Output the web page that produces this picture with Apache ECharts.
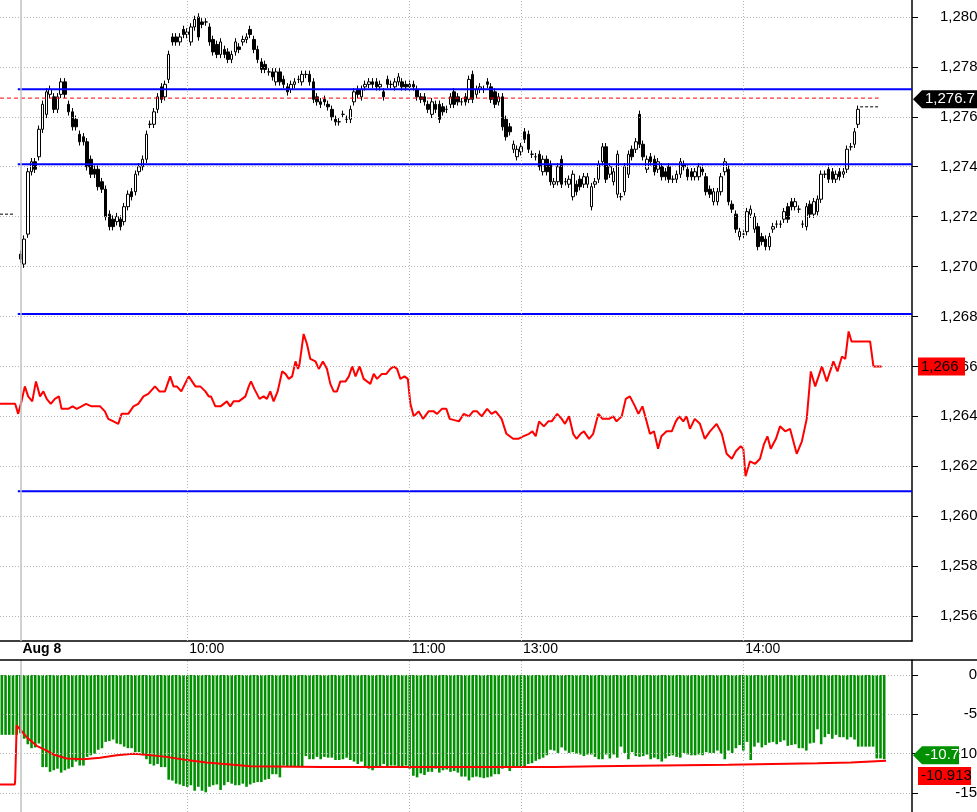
<!DOCTYPE html>
<html><head><meta charset="utf-8">
<script src="https://cdn.jsdelivr.net/npm/echarts@6/dist/echarts.min.js"></script>
<style>html,body{margin:0;padding:0;background:#fff}#c{width:977px;height:812px}</style>
</head><body><div id="c"></div>
<script>
// ---- data ----
const N = 246;                    // 1-minute bar slots on the time axis
const candleStart = 5;            // first bar of Aug 8
const tickIdx = [5, 50, 110, 140, 200];
const tickText = ['Aug 8', '10:00', '11:00', '13:00', '14:00'];
const priceTicks = [1256,1258,1260,1262,1264,1266,1268,1270,1272,1274,1276,1278,1280];
const oscTicks = [0,-5,-10,-15];
const O = [1270.5,1270.1,1271.3,1273.8,1274.2,1274.4,1275.5,1276.1,1276.9,1276.8,1276.3,1276.9,1277.4,1276.5,1276.2,1275.9,1275.3,1275.2,1275.0,1274.3,1273.9,1273.9,1273.4,1273.1,1272.1,1271.9,1271.8,1271.9,1271.8,1272.4,1273.0,1273.0,1273.8,1274.0,1274.3,1275.7,1275.7,1276.3,1277.2,1276.8,1277.5,1279.2,1279.2,1279.0,1279.5,1279.3,1279.0,1279.6,1280.0,1279.8,1279.8,1279.6,1279.1,1278.9,1278.5,1278.7,1278.6,1278.3,1278.6,1278.8,1279.0,1279.1,1279.5,1279.1,1278.7,1278.2,1278.1,1277.8,1277.8,1277.4,1277.8,1277.5,1277.2,1277.1,1277.3,1277.5,1277.4,1277.7,1277.7,1277.4,1276.8,1276.6,
1276.7,1276.5,1276.3,1275.9,1275.8,1276.1,1275.9,1275.9,1276.6,1277.1,1276.8,1277.2,1277.3,1277.4,1277.4,1277.2,1277.0,1277.5,1277.3,1277.2,1277.4,1277.4,1277.3,1277.2,1277.3,1277.1,1276.8,1276.8,1276.5,1276.1,1276.5,1276.5,1276.4,1276.3,1276.5,1277.0,1276.8,1276.6,1276.8,1276.7,1277.7,1276.9,1277.1,1277.1,1277.4,1277.2,1277.0,1276.6,1276.8,1275.9,1275.6,1274.7,1274.4,1274.6,1275.4,1275.3,1274.5,1274.4,1274.5,1273.8,1274.3,1274.1,1273.3,1273.4,1274.3,1273.4,1273.3,1272.8,1273.3,1273.5,1273.3,1273.3,1272.4,1273.3,1273.5,1274.2,1274.8,1273.7,1273.4,1272.9,1272.8,1273.0,1273.7,1274.7,1274.7,1276.1,
1274.9,1273.9,1274.4,1274.3,1273.9,1274.0,1273.8,1274.0,1273.5,1273.5,1273.7,1274.1,1273.9,1273.8,1273.6,1273.6,1273.9,1273.6,1273.1,1272.6,1272.6,1273.0,1273.8,1273.9,1272.5,1272.1,1271.2,1271.3,1271.4,1272.1,1271.5,1271.6,1271.2,1271.1,1270.8,1271.5,1271.7,1271.7,1271.9,1272.4,1272.6,1272.4,1272.3,1271.7,1271.6,1272.5,1272.1,1272.2,1272.7,1273.7,1273.9,1273.8,1273.5,1273.8,1273.7,1273.9,1274.8,1274.9,1275.7];
const C = [1270.3,1271.1,1273.8,1274.2,1273.9,1275.5,1276.5,1277.0,1277.1,1276.3,1276.8,1277.4,1276.9,1276.2,1275.6,1275.6,1275.0,1275.0,1274.0,1273.7,1273.7,1273.2,1273.1,1272.0,1271.6,1271.6,1272.0,1271.6,1272.4,1272.9,1272.8,1273.7,1274.0,1274.3,1275.3,1275.7,1276.2,1276.8,1276.7,1277.3,1278.5,1279.0,1279.0,1279.2,1279.3,1279.4,1279.6,1279.9,1279.2,1279.7,1279.8,1279.0,1278.6,1278.5,1279.0,1278.5,1278.3,1278.5,1279.0,1278.7,1279.1,1279.2,1279.3,1278.7,1278.3,1277.9,1277.9,1277.8,1277.6,1277.8,1277.4,1277.3,1277.0,1277.3,1277.4,1277.5,1277.7,1277.7,1277.4,1276.7,1276.6,1276.5,
1276.6,1276.4,1276.0,1275.8,1275.8,1276.1,1275.9,1276.3,1277.0,1276.9,1277.1,1277.3,1277.4,1277.3,1277.2,1277.3,1276.8,1277.3,1277.3,1277.4,1277.6,1277.2,1277.2,1277.3,1277.2,1276.8,1276.7,1276.6,1276.3,1276.6,1276.3,1275.9,1276.2,1276.3,1276.8,1276.5,1276.6,1276.6,1276.6,1277.5,1276.7,1277.1,1277.2,1277.1,1277.3,1276.7,1276.5,1276.8,1275.6,1275.2,1275.4,1274.9,1274.7,1274.8,1275.1,1274.7,1274.5,1274.4,1274.0,1274.3,1273.8,1273.4,1273.4,1274.0,1273.3,1273.4,1273.5,1273.7,1273.0,1273.2,1273.6,1273.6,1273.2,1273.4,1274.1,1274.8,1273.5,1274.0,1273.8,1274.5,1272.8,1274.0,1274.5,1274.4,1275.0,1274.9,
1274.4,1274.3,1274.2,1273.8,1274.2,1273.6,1273.6,1273.5,1273.5,1273.7,1274.2,1274.0,1273.6,1273.6,1273.8,1274.0,1273.8,1273.0,1272.9,1273.0,1273.0,1273.6,1274.2,1272.6,1272.3,1271.5,1271.4,1271.3,1272.2,1272.3,1272.0,1270.8,1271.0,1270.8,1271.2,1271.6,1271.7,1271.7,1272.2,1271.9,1272.4,1272.6,1272.3,1271.7,1272.4,1272.1,1272.6,1272.7,1273.7,1273.7,1273.5,1273.5,1273.7,1273.6,1273.8,1274.7,1274.8,1275.4,1276.3];
// second instrument (red line): [bar time, price]
const redLine = [[-0.5,1264.5],[3.6,1264.5],[4.4,1264.1],[5.3,1264.6],[6.2,1265.2],[7.1,1264.8],[8.2,1264.6],[9.2,1265.4],[10.3,1264.8],[11.2,1265.0],[12.1,1264.7],[13.2,1264.5],[14.3,1264.7],[15.4,1264.8],[16.1,1264.3],[17.9,1264.3],[19.1,1264.4],[20.2,1264.3],[21.5,1264.4],[22.7,1264.5],[24.2,1264.4],[26.5,1264.4],[27.8,1264.2],[28.7,1263.9],[30.1,1263.8],[31.4,1263.7],[32.3,1264.1],[34.1,1264.1],[35.5,1264.4],[36.8,1264.5],[38.2,1264.8],[39.5,1264.9],[41.3,1265.2],[42.5,1265.0],[44.0,1265.0],[45.4,1265.6],[46.3,1265.2],[47.2,1265.2],[48.4,1265.0],[50.4,1265.6],[52.2,1265.2],[53.5,1265.2],[54.9,1265.0],[55.8,1264.8],[56.4,1264.8],[57.6,1264.4],[59.0,1264.4],[60.7,1264.6],[61.6,1264.4],[62.5,1264.6],[63.9,1264.6],[65.7,1264.8],[66.6,1265.2],[67.2,1265.4],[68.1,1265.1],[69.5,1264.7],[70.6,1264.8],[71.5,1264.7],[72.4,1265.0],[73.3,1264.6],[74.4,1265.0],[75.6,1265.8],[76.5,1265.7],[77.4,1265.5],[78.3,1265.6],[79.2,1266.2],[79.9,1265.9],[80.3,1266.1],[81.4,1267.3],[82.3,1266.9],[83.2,1266.3],[84.6,1266.2],[85.5,1265.9],[86.6,1266.2],[87.7,1265.9],[88.6,1265.3],[89.5,1265.0],[90.4,1265.0],[91.3,1265.4],[92.7,1265.4],[93.6,1265.6],[94.5,1266.0],[95.4,1265.6],[96.5,1266.0],[97.6,1265.5],[98.5,1265.4],[99.4,1265.3],[100.3,1265.7],[101.2,1265.5],[102.5,1265.7],[103.7,1265.7],[104.8,1265.9],[105.7,1266.0],[106.6,1265.9],[107.5,1265.5],[108.6,1265.6],[109.5,1265.5],[110.2,1264.5],[111.1,1264.0],[112.4,1264.2],[113.6,1263.9],[115.1,1264.2],[116.5,1264.2],[117.4,1264.1],[118.7,1264.3],[119.9,1264.3],[120.8,1263.9],[123.3,1263.8],[124.6,1264.1],[126.0,1264.0],[127.1,1264.2],[128.2,1264.2],[129.4,1264.0],[130.9,1264.3],[132.1,1264.1],[133.2,1264.2],[134.8,1263.9],[136.1,1263.3],[137.9,1263.1],[139.3,1263.1],[140.6,1263.2],[142.2,1263.3],[143.1,1263.4],[144.0,1263.2],[144.9,1263.8],[146.2,1263.6],[147.4,1263.8],[148.3,1263.8],[149.8,1264.1],[151.0,1263.9],[151.9,1263.7],[153.0,1264.0],[154.1,1263.3],[155.0,1263.1],[156.1,1263.3],[157.0,1263.4],[158.4,1263.1],[159.5,1263.3],[160.9,1264.1],[162.0,1263.9],[163.8,1263.9],[164.9,1264.0],[165.8,1263.8],[167.2,1264.0],[168.3,1264.7],[169.4,1264.8],[170.8,1264.4],[171.7,1264.1],[172.8,1264.4],[173.9,1263.8],[174.8,1263.3],[175.9,1263.4],[177.0,1262.7],[177.9,1263.2],[179.3,1263.4],[180.7,1263.4],[181.8,1263.8],[182.7,1264.0],[183.8,1263.8],[184.7,1264.0],[185.6,1263.5],[186.9,1263.9],[188.3,1263.7],[189.6,1263.1],[191.0,1263.4],[192.8,1263.7],[194.2,1263.3],[195.5,1262.5],[196.9,1262.3],[198.0,1262.6],[199.3,1262.8],[200.0,1262.7],[200.6,1261.6],[201.8,1262.2],[203.2,1262.1],[204.5,1262.3],[205.6,1262.9],[206.5,1263.2],[207.4,1262.7],[208.8,1263.1],[209.9,1263.6],[211.3,1263.4],[212.6,1263.5],[214.4,1262.5],[215.8,1263.0],[217.1,1263.9],[218.2,1265.8],[219.4,1265.2],[221.2,1266.0],[222.5,1265.4],[224.3,1266.2],[225.4,1265.8],[226.6,1266.4],[227.5,1266.3],[228.4,1267.4],[229.2,1267.0],[234.2,1267.0],[235.1,1266.0],[237.3,1266.0]];
const levels = [1277.1, 1274.1, 1268.1, 1261.0];
const refLevel = 1276.75;
const prevClose = 1272.1;
const lastClose = 1276.4;
// lower pane: histogram depth (shown as negative values) and signal line
const hist = [7.6,7.6,7.6,7.6,7.6,
7.4,8.1,8.8,9.3,9.2,8.7,11.7,11.7,12.3,12.1,11.9,12.4,12.1,11.9,11.7,11.0,11.5,11.5,10.4,10.2,10.0,9.5,9.3,8.5,8.4,8.2,8.7,8.8,9.1,9.3,9.3,9.8,9.8,10.2,10.7,11.3,11.5,11.3,11.7,11.7,13.3,13.4,13.8,13.9,14.1,14.2,14.0,14.7,14.2,14.7,14.9,14.2,14.0,13.9,14.6,14.0,13.6,13.8,14.0,14.0,13.8,14.2,13.9,13.7,13.6,13.6,13.3,13.2,12.6,12.6,13.0,11.5,11.7,11.7,11.7,11.7,11.7,10.3,10.7,10.7,10.4,10.7,10.4,10.5,
10.5,10.8,10.8,10.7,10.5,10.8,11.0,11.3,11.0,11.7,11.9,12.1,11.7,11.6,11.3,11.8,11.5,11.5,11.8,11.6,11.5,11.9,12.8,13.0,12.5,12.7,12.3,12.3,11.9,12.4,12.1,12.0,12.3,12.2,12.4,12.9,12.9,13.4,13.0,12.9,13.0,13.1,13.0,12.9,12.6,12.6,11.9,11.6,12.2,11.6,11.6,11.6,11.6,11.3,11.2,10.9,10.7,10.5,10.2,9.5,9.6,9.9,9.2,9.6,9.9,9.8,10.0,10.1,10.3,10.1,10.1,10.4,10.7,10.7,10.1,10.6,10.1,10.5,9.1,9.9,10.7,9.8,10.3,10.4,10.3,10.1,10.7,10.5,10.7,11.0,10.6,10.3,10.2,10.4,10.5,9.9,10.1,10.2,10.2,10.1,10.2,9.8,9.9,9.9,9.6,10.0,10.7,9.6,9.9,9.3,8.9,
9.6,8.5,10.8,9.1,8.6,9.2,8.9,8.6,8.5,8.8,8.5,8.3,9.0,8.9,8.8,9.3,9.3,9.6,8.7,8.6,6.9,8.8,7.9,7.5,8.1,7.6,7.9,7.9,8.2,7.9,8.2,9.1,9.1,9.1,9.1,9.1,10.6,10.6,10.7];
const signal = [[-0.5,-13.9],[3.5,-13.9],[3.6,-13.3],[4.0,-6.4],[4.5,-6.4],[6.7,-7.9],[9.4,-9.0],[12.1,-9.6],[13.9,-10.1],[17.5,-10.6],[22,-10.7],[26.5,-10.5],[31,-10.2],[35.4,-10.0],[38.2,-10.1],[44.4,-10.4],[49.8,-10.8],[55.2,-11.1],[62.4,-11.4],[66.9,-11.6],[86.3,-11.7],[149,-11.7],[149.1,-11.6],[160.8,-11.6],[161,-11.5],[178,-11.5],[178.2,-11.4],[196,-11.4],[196.2,-11.3],[207.8,-11.3],[208,-11.2],[220,-11.2],[220.2,-11.1],[229,-11.1],[229.2,-11.0],[238.5,-10.9]];
const histLast = -10.7, signalLast = -10.913, refLast = 1276.7, redLast = 1266;

// ---- build ----
const cats = Array.from({length:N}, (_,i)=>String(i));
const candles = cats.map((_,i)=>{
  const k = i - candleStart;
  if (k < 0 || k >= O.length) return '-';
  const o=O[k], c=C[k];
  return [o, c, Math.min(o,c)-0.15, Math.max(o,c)+0.15];
});
const histData = cats.map((_,i)=> i < hist.length ? -hist[i] : '-');
const F = 'Liberation Sans, Arial, sans-serif';
const fmtP = v => '1,' + String(Math.round(v-1000)).padStart(3,'0');
const dot = {color:'#b4b4b4', type:[1,2], width:1};
const vLines = tickIdx.slice(1).map(i=>({xAxis:i, lineStyle:dot}));
vLines.push({xAxis:tickIdx[0], lineStyle:{color:'#c0c0c0', type:'solid', width:1.5}});
const chart = echarts.init(document.getElementById('c'), null, {renderer:'canvas'});
chart.setOption({
  animation:false,
  grid:[{left:0,right:65,top:0,height:641,outerBoundsMode:'none',containLabel:false},
        {left:0,right:65,top:660,height:152,outerBoundsMode:'none',containLabel:false}],
  xAxis:[
    {type:'category',gridIndex:0,data:cats,boundaryGap:true,
     axisLine:{onZero:false,lineStyle:{color:'#000',width:1.5}},
     axisTick:{alignWithLabel:true,interval:(i)=>tickIdx.includes(i),length:5,lineStyle:{color:'#000'}},
     axisLabel:{interval:(i)=>tickIdx.includes(i),align:'left',margin:1,padding:[0,0,0,2],
       fontFamily:F,fontSize:14,color:'#000',
       formatter:(v,i)=>{const k=tickIdx.indexOf(+v);return k<0?'':(k===0?'{b|'+tickText[k]+'}':tickText[k]);},
       rich:{b:{fontWeight:'bold',fontFamily:F,fontSize:14,color:'#000'}}},
     splitLine:{show:false}},
    {type:'value',gridIndex:0,min:-0.5,max:N-0.5,show:false},
    {type:'category',gridIndex:1,data:cats,boundaryGap:true,axisLine:{show:false},axisTick:{show:false},axisLabel:{show:false}},
    {type:'value',gridIndex:1,min:-0.5,max:N-0.5,show:false}
  ],
  yAxis:[
    {type:'value',gridIndex:0,position:'right',min:1255,max:1280.68,
     axisLine:{show:true,onZero:false,lineStyle:{color:'#000',width:1.5}},
     axisTick:{show:true,customValues:priceTicks,length:6,lineStyle:{color:'#000'}},
     axisLabel:{customValues:priceTicks,formatter:fmtP,fontFamily:F,fontSize:15,color:'#000',margin:28},
     splitLine:{show:false}},
    {type:'value',gridIndex:1,position:'right',min:-17.4,max:1.9,
     axisLine:{show:true,onZero:false,lineStyle:{color:'#000',width:1.5}},
     axisTick:{show:true,customValues:oscTicks,length:6,lineStyle:{color:'#000'}},
     axisLabel:{customValues:oscTicks,fontFamily:F,fontSize:15,color:'#000',margin:65,align:'right'},
     splitLine:{show:false}}
  ],
  series:[
    {type:'line',xAxisIndex:1,yAxisIndex:0,data:[],silent:true,
     markLine:{symbol:'none',silent:true,label:{show:false},
       data:[...priceTicks.map(v=>({yAxis:v,lineStyle:dot})), ...vLines]}},
    {type:'line',xAxisIndex:3,yAxisIndex:1,data:[],silent:true,
     markLine:{symbol:'none',silent:true,label:{show:false},
       data:[...oscTicks.map(v=>({yAxis:v,lineStyle:dot})), ...vLines]}},
    {type:'line',xAxisIndex:1,yAxisIndex:0,data:[[-0.5,refLevel],[236.5,refLevel]],symbol:'none',
     lineStyle:{color:'#ff0000',width:1,type:[4,3]}},
    {type:'line',xAxisIndex:1,yAxisIndex:0,data:[[-0.5,prevClose],[3.5,prevClose]],symbol:'none',
     lineStyle:{color:'#000',width:1,type:[3,2]}},
    {type:'line',xAxisIndex:1,yAxisIndex:0,data:[[231.5,lastClose],[236.5,lastClose]],symbol:'none',
     lineStyle:{color:'#000',width:1,type:[3,2]}},
    ...levels.map(v=>({type:'line',xAxisIndex:1,yAxisIndex:0,data:[[4.3,v],[N-0.5,v]],symbol:'none',
     lineStyle:{color:'#0000ff',width:2}})),
    {type:'candlestick',xAxisIndex:0,yAxisIndex:0,data:candles,barWidth:3,
     itemStyle:{color:'#fff',color0:'#000',borderColor:'#000',borderColor0:'#000',borderWidth:1}},
    {type:'line',xAxisIndex:1,yAxisIndex:0,data:redLine,symbol:'none',
     lineStyle:{color:'#ff0000',width:2}},
    {type:'bar',xAxisIndex:2,yAxisIndex:1,data:histData,barWidth:2.6,itemStyle:{color:'#009000'}},
    {type:'line',xAxisIndex:3,yAxisIndex:1,data:signal,symbol:'none',lineStyle:{color:'#ff0000',width:2}}
  ]
});
// right-side value tags
const tag = (yAxisIndex, v, text, bg, fg, arrow, w, dy) => {
  const y = chart.convertToPixel({yAxisIndex}, v) + (dy||0);
  const x0 = 913, h = 18;
  const pts = arrow ? [[x0,y],[x0+9,y-h/2],[x0+w,y-h/2],[x0+w,y+h/2],[x0+9,y+h/2]]
                    : [[x0+5,y-h/2],[x0+w,y-h/2],[x0+w,y+h/2],[x0+5,y+h/2]];
  return [{type:'polygon',shape:{points:pts},style:{fill:bg},z:100},
          {type:'text',x:x0+(arrow?12:8),y:y,style:{text:text,fill:fg,font:'15px '+F,textVerticalAlign:'middle'},z:101}];
};
chart.setOption({graphic:[
  {type:'line',shape:{x1:0,y1:660,x2:977,y2:660},style:{stroke:'#000',lineWidth:1.5},z:90},
  ...tag(0, refLast, '1,276.7', '#000', '#fff', true, 64),
  ...tag(0, redLast, '1,266', '#ff0000', '#000', false, 52),
  ...tag(1, histLast, '-10.7', '#009000', '#fff', true, 46, -4),
  ...tag(1, signalLast, '-10.913', '#ff0000', '#000', false, 58, 15)
]});
</script></body></html>
